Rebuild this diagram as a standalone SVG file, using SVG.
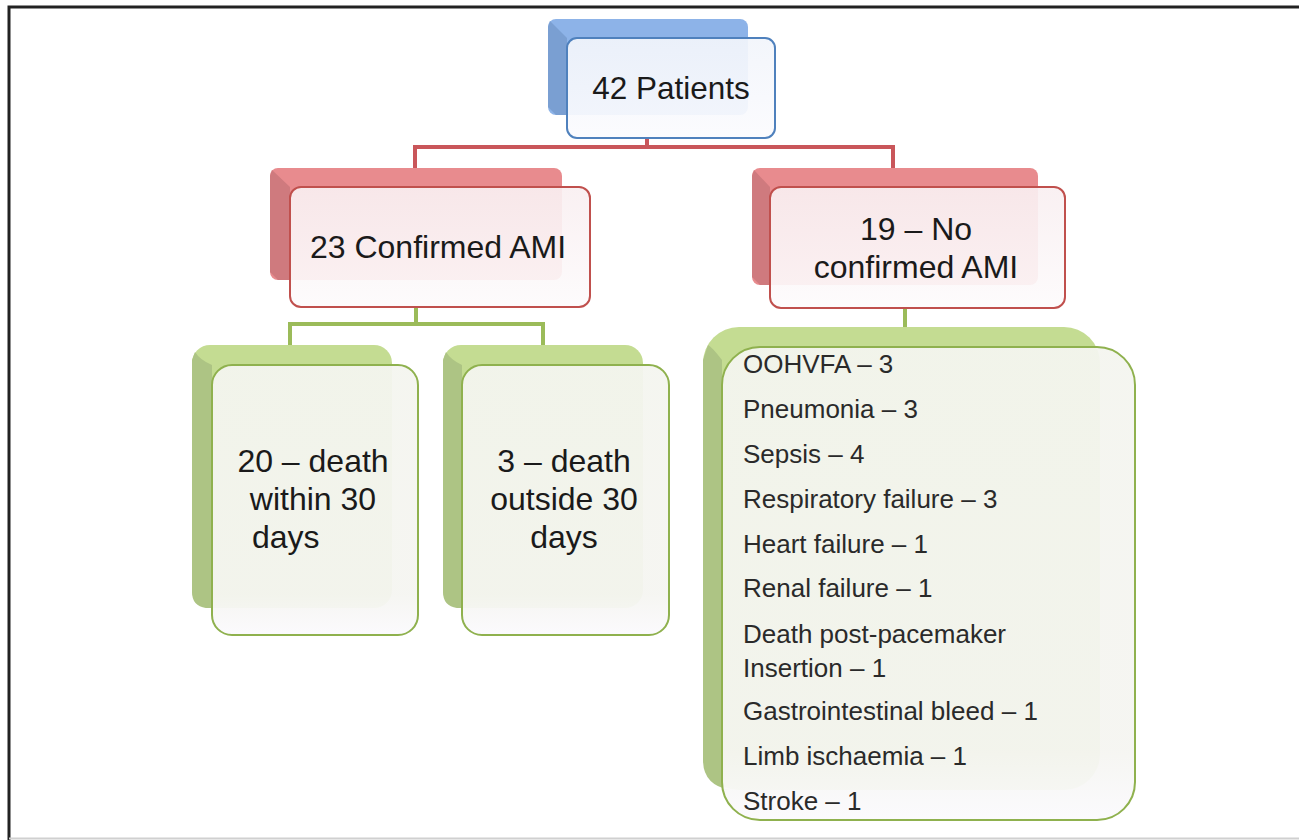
<svg xmlns="http://www.w3.org/2000/svg" width="1299" height="840" viewBox="0 0 1299 840">
<style>
text{font-family:"Liberation Sans",Arial,sans-serif;fill:#1a1a1a}
.big{font-size:31.5px}
.mid{font-size:32px}
.lst{font-size:26px;fill:#2a2a2a}
.con{fill:none;stroke-width:4;stroke-linejoin:miter}
.red{stroke:#c9565a}
.grn{stroke:#9bbb59}
.fb{stroke-width:2}
</style>
<defs>
<linearGradient id="gBlue" x1="0" y1="0" x2="0" y2="1"><stop offset="0" stop-color="#f2f5fb"/><stop offset="1" stop-color="#fbfbfe"/></linearGradient>
<linearGradient id="gRed" x1="0" y1="0" x2="0" y2="1"><stop offset="0" stop-color="#f9eff1"/><stop offset="1" stop-color="#fdfbfc"/></linearGradient>
<linearGradient id="gGrn" x1="0" y1="0" x2="0" y2="1"><stop offset="0" stop-color="#f4f5ef"/><stop offset="0.85" stop-color="#f5f5f1"/><stop offset="1" stop-color="#fbfafd"/></linearGradient>
</defs>
<rect width="1299" height="840" fill="#fff"/>
<g id="frame">
<path d="M1299 7 H9 V840" fill="none" stroke="#222" stroke-width="3"/>
<line x1="9" y1="838.5" x2="1299" y2="838.5" stroke="#d0d0d0" stroke-width="2"/>
</g>
<g id="connectors">
<path class="con red" d="M647 138 V147 M415 168 V147 H893 V168"/>
<path class="con grn" d="M416 307 V324 M290 345 V324 H543 V345"/>
<path class="con grn" d="M905 308 V328"/>
</g>
<g id="n-patients">
<rect x="548" y="19" width="200" height="96" rx="8" fill="#8db3e8"/>
<polygon points="550,21 567,38 567,115 556,115 548,107 548,27" fill="#7a9fd2"/>
<rect class="fb" x="567" y="38" width="208" height="100" rx="10" fill="url(#gBlue)" fill-opacity="0.93" stroke="#4f81bd"/>
<text class="big" x="671" y="99" text-anchor="middle">42 Patients</text>
</g>
<g id="n-confirmed">
<rect x="270" y="168" width="292" height="112" rx="8" fill="#e88b8e"/>
<polygon points="272,170 290,187 290,280 278,280 270,272 270,176" fill="#cf7a7e"/>
<rect class="fb" x="290" y="187" width="300" height="120" rx="11" fill="url(#gRed)" fill-opacity="0.92" stroke="#c0504d"/>
<text class="mid" x="438" y="258" text-anchor="middle">23 Confirmed AMI</text>
</g>
<g id="n-noconfirmed">
<rect x="752" y="168" width="286" height="117" rx="8" fill="#e88b8e"/>
<polygon points="754,170 770,187 770,285 760,285 752,277 752,176" fill="#cf7a7e"/>
<rect class="fb" x="770" y="187" width="295" height="121" rx="11" fill="url(#gRed)" fill-opacity="0.92" stroke="#c0504d"/>
<text class="mid" x="916" y="240" text-anchor="middle">19 – No</text>
<text class="mid" x="916" y="278" text-anchor="middle">confirmed AMI</text>
</g>
<g id="n-within">
<rect x="192" y="345" width="200" height="263" rx="18" fill="#c4dc92"/>
<path d="M195 352 Q200 360 212 365 V608 H206 Q192 606 192 592 V360 Z" fill="#adc484"/>
<rect class="fb" x="212" y="365" width="206" height="270" rx="20" fill="url(#gGrn)" fill-opacity="0.95" stroke="#8fb14e"/>
<text class="mid" x="313" y="472" text-anchor="middle">20 – death</text>
<text class="mid" x="313" y="510" text-anchor="middle">within 30</text>
<text class="mid" x="252" y="548">days</text>
</g>
<g id="n-outside">
<rect x="443" y="345" width="200" height="263" rx="18" fill="#c4dc92"/>
<path d="M446 352 Q451 360 462 365 V608 H457 Q443 606 443 592 V360 Z" fill="#adc484"/>
<rect class="fb" x="462" y="365" width="207" height="270" rx="20" fill="url(#gGrn)" fill-opacity="0.95" stroke="#8fb14e"/>
<text class="mid" x="564" y="472" text-anchor="middle">3 – death</text>
<text class="mid" x="564" y="510" text-anchor="middle">outside 30</text>
<text class="mid" x="564" y="548" text-anchor="middle">days</text>
</g>
<g id="n-causes">
<rect x="703" y="327" width="397" height="463" rx="36" fill="#c4dc92"/>
<path d="M708 345 Q712 347 722 360 V790 H730 Q703 785 703 760 V360 Z" fill="#adc484"/>
<rect class="fb" x="722" y="347" width="413" height="473" rx="38" fill="url(#gGrn)" fill-opacity="0.95" stroke="#8fb14e"/>
<text class="lst" x="743" y="373">OOHVFA – 3</text>
<text class="lst" x="743" y="418">Pneumonia – 3</text>
<text class="lst" x="743" y="463">Sepsis – 4</text>
<text class="lst" x="743" y="508">Respiratory failure – 3</text>
<text class="lst" x="743" y="553">Heart failure – 1</text>
<text class="lst" x="743" y="597">Renal failure – 1</text>
<text class="lst" x="743" y="643">Death post-pacemaker</text>
<text class="lst" x="743" y="677">Insertion – 1</text>
<text class="lst" x="743" y="720">Gastrointestinal bleed – 1</text>
<text class="lst" x="743" y="765">Limb ischaemia – 1</text>
<text class="lst" x="743" y="810">Stroke – 1</text>
</g>
</svg>
